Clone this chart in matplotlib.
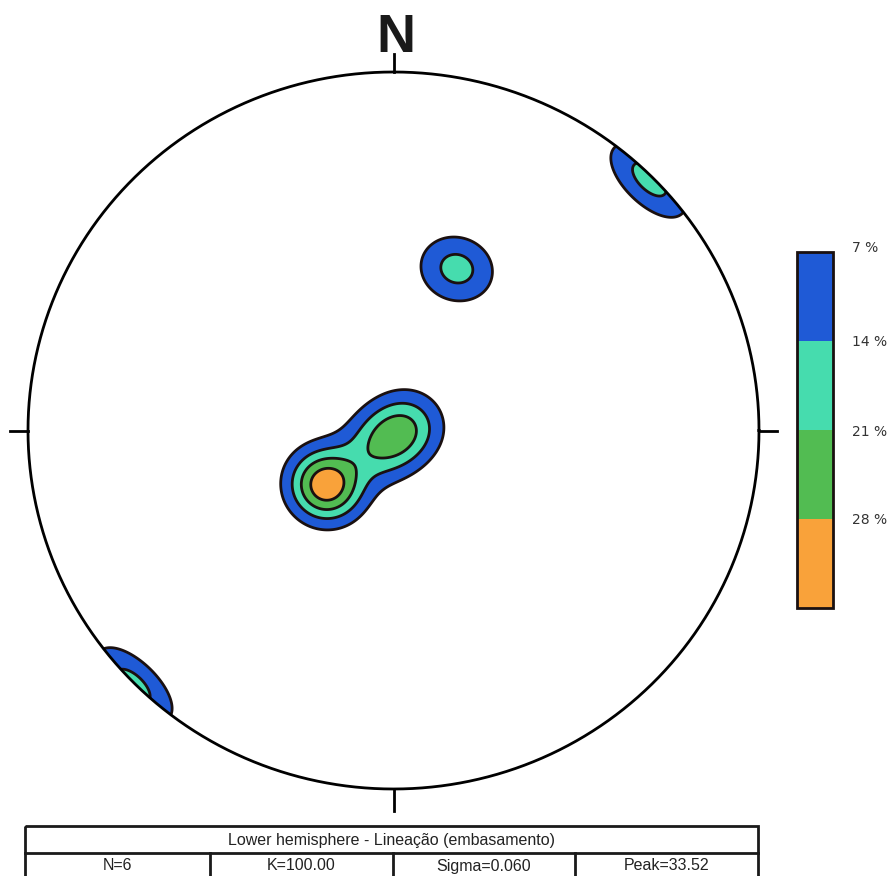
import numpy as np
import matplotlib
matplotlib.use("Agg")
import matplotlib.pyplot as plt
from matplotlib.colors import ListedColormap, BoundaryNorm
from matplotlib.patches import Circle, Rectangle
import matplotlib as mpl

# ---- data: lineations (trend / plunge, degrees) ----
trends = [230, 231, 219, 71, 21, 45]
plunges = [70, 71, 85.6, 86.6, 50, 1]
K = 100.0
levels = [7, 14, 21, 28]
level_labels = ["7 %", "14 %", "21 %", "28 %"]
fill_colors = ["#1f5ad6", "#46dcae", "#52bc52", "#f9a23a"]
title_text = "Lower hemisphere - Lineação (embasamento)"
stats_text = ["N=6", "K=100.00", "Sigma=0.060", "Peak=33.52"]


def to_vec(trend, plunge):
    t = np.radians(trend)
    c = np.radians(90.0 - np.asarray(plunge))
    return np.stack([np.sin(c) * np.sin(t), np.sin(c) * np.cos(t), np.cos(c)], axis=-1)


W, H = 888, 876
fig = plt.figure(figsize=(W / 100, H / 100), dpi=100)

# stereonet axes (circle spans x 28..759 px, y 72..789 px)
ax = fig.add_axes([28 / W, 1 - 789 / H, 731 / W, 717 / H])
ax.set_xlim(-1, 1)
ax.set_ylim(-1, 1)
ax.set_aspect("auto")
ax.axis("off")

# density grid (Schmidt equal-area inverse; extends past rim for clean clipping)
n = 601
g = np.linspace(-1.05, 1.05, n)
X, Y = np.meshgrid(g, g)
R = np.clip(np.hypot(X, Y), 0, np.sqrt(2) - 1e-9)
colat = 2 * np.arcsin(R / np.sqrt(2))
az = np.arctan2(X, Y)
G = np.stack([np.sin(colat) * np.sin(az), np.sin(colat) * np.cos(az), np.cos(colat)], axis=-1)
P = to_vec(np.array(trends), np.array(plunges))
cosang = np.abs(G @ P.T)
D = 100.0 / len(trends) * np.exp(K * (cosang - 1)).sum(axis=-1)

clip = Circle((0, 0), 1.0, transform=ax.transData, facecolor="none", edgecolor="none")
ax.add_patch(clip)
cf = ax.contourf(X, Y, D, levels=levels + [max(D.max(), 29) + 1], colors=fill_colors)
cl = ax.contour(X, Y, D, levels=levels, colors="#1a1010", linewidths=2.0)
cf.set_clip_path(clip)
cl.set_clip_path(clip)

# primitive circle and ticks
th = np.linspace(0, 2 * np.pi, 721)
ax.plot(np.cos(th), np.sin(th), color="black", lw=2.0, clip_on=False)
tk = 0.05
for (x0, y0, x1, y1) in [(0, 1, 0, 1 + tk), (0, -1, 0, -1 - tk * 1.2), (-1, 0, -1 - tk, 0), (1, 0, 1 + tk, 0)]:
    ax.plot([x0, x1], [y0, y1], color="black", lw=2.0, clip_on=False)

fig.text(396 / W, 1 - 52 / H, "N", ha="center", va="baseline", fontsize=39,
         fontweight="bold", family="Liberation Sans", color="#1a1a1a")

# colour scale
cax = fig.add_axes([797 / W, 1 - 608 / H, 36 / W, 356 / H])
bounds = levels + [35]
cmap = ListedColormap(fill_colors)
norm = BoundaryNorm(bounds, cmap.N)
cb = mpl.colorbar.ColorbarBase(cax, cmap=cmap, norm=norm, boundaries=bounds,
                               spacing="uniform", orientation="vertical",
                               drawedges=True)
cb.ax.invert_yaxis()
cb.outline.set_linewidth(2.0)
cb.outline.set_edgecolor("#1a1010")
cb.dividers.set_color("#1a1010")
cb.dividers.set_linewidth(2.0)
cb.set_ticks(levels)
cb.set_ticklabels(level_labels)
cax.minorticks_off()
cax.tick_params(which="both", length=0, pad=14, labelsize=10)
for i, t in enumerate(cax.get_yticklabels()):
    t.set_family("DejaVu Sans")
    t.set_color("#333333")
    if i == 0:
        t.set_transform(t.get_transform() + mpl.transforms.ScaledTranslation(0, 6 / 100, fig.dpi_scale_trans))

# stats table at bottom (pixel coords overlay)
ov = fig.add_axes([0, 0, 1, 1])
ov.set_xlim(0, W)
ov.set_ylim(H, 0)
ov.axis("off")
left, right, top, mid, bot = 25, 758, 826, 853, 882
lw = 2.0
ov.add_patch(Rectangle((left, top), right - left, bot - top, fill=False, lw=lw, ec="#1a1a1a", clip_on=False))
ov.plot([left, right], [mid, mid], color="#1a1a1a", lw=lw)
cols = [left, 210, 393, 575, right]
for xc in cols[1:-1]:
    ov.plot([xc, xc], [mid, bot], color="#1a1a1a", lw=lw, clip_on=False)
ov.text((left + right) / 2, (top + mid) / 2 + 1, title_text, ha="center", va="center",
        fontsize=11.5, family="Liberation Sans", color="#222222")
for i, s in enumerate(stats_text):
    ov.text((cols[i] + cols[i + 1]) / 2, mid + 13, s, ha="center", va="center",
            fontsize=11.5, family="Liberation Sans", color="#222222")

fig.savefig("out.png", dpi=100, facecolor="white")
